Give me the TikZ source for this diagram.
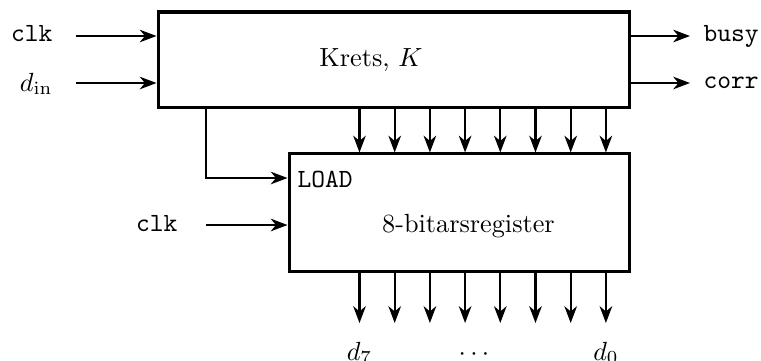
\documentclass[tikz,border=0pt]{standalone}
\usetikzlibrary{arrows.meta}
\begin{document}
\begin{tikzpicture}[x=0.381pt,y=-0.381pt,
  box/.style={draw, line width=1.15pt, rectangle, inner sep=0pt},
  arr/.style={line width=0.78pt, -{Stealth[length=6.4pt,width=4.8pt,inset=2pt]}},
  lab/.style={inner sep=0pt}]
\useasboundingbox (0,0) rectangle (761,360);
% boxes
\node[box, minimum width=179.8pt, minimum height=36.2pt] (K) at (394,59.5) {};
\node[lab] (Ktxt) at (371,60) {Krets, $K$};
\node[box, minimum width=129.9pt, minimum height=44.6pt] (R) at (459.5,212.5) {};
\node[lab, anchor=base] (Rtxt) at (468.5,232) {8-bitarsregister};
\node[lab, anchor=base west] (load) at (297,187) {\texttt{LOAD}};
% input labels
\node[lab, anchor=base east] (lclk) at (53,41) {\texttt{clk}};
\node[lab, anchor=base east] (ldin) at (53,91) {$d_{\mathrm{in}}$};
\node[lab, anchor=base west] (lbusy) at (703,41) {\texttt{busy}};
\node[lab, anchor=base west] (lcorr) at (703,88) {\texttt{corr}};
\node[lab, anchor=base east] (lclk2) at (178,231) {\texttt{clk}};
% free ends
\coordinate (clkin) at (76,36);
\coordinate (dinin) at (76,83);
\coordinate (busyend) at (690,36);
\coordinate (corrend) at (690,83);
\coordinate (lc) at (206,178);
\coordinate (c2) at (206,225);
% connectors
\draw[arr] (clkin) -- (K.west |- clkin);
\draw[arr] (dinin) -- (K.west |- dinin);
\draw[arr] (K.east |- busyend) -- (busyend);
\draw[arr] (K.east |- corrend) -- (corrend);
\draw[arr] (K.south -| lc) |- (R.west |- lc);
\draw[arr] (c2) -- (R.west |- c2);
\foreach \i in {0,...,7}{
  \coordinate (t\i) at ({359.5+35.2*\i},0);
  \coordinate (b\i) at ({359.5+35.2*\i},323);
  \draw[arr] (K.south -| t\i) -- (R.north -| t\i);
  \draw[arr] (R.south -| b\i) -- (b\i);
}
\node[lab, anchor=base] (d7) at (359.5,360) {$d_7$};
\node[lab, anchor=base] (dots) at (474,360) {$\cdots$};
\node[lab, anchor=base] (d0) at (606,360) {$d_0$};
\end{tikzpicture}
\end{document}
